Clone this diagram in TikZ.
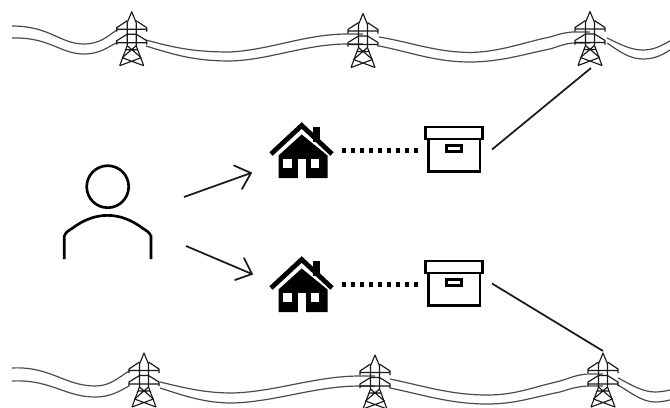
\documentclass[tikz,border=0pt]{standalone}
\tikzset{
  x=0.75pt,y=-0.75pt,
  wire/.style={draw=black!70,line width=0.9pt},
  tw/.style={draw=black!90,line width=0.85pt,line join=round},
  thick line/.style={draw=black,line width=2pt},
  conn/.style={draw=black!90,line width=1.3pt},
  dots/.style={draw=black,line width=3.2pt,dash pattern=on 3pt off 3.75pt},
  head/.style={draw=black!90,line width=1.3pt,line cap=round,line join=miter},
  towerpic/.pic={
    \path[tw] (-4.5,11) -- (0,0) -- (4.5,11) (-4.5,11) -- (-4.5,34) (4.5,11) -- (4.5,34)
      (-4.5,34) -- (-12,54) (4.5,34) -- (12,54);
    \path[tw] (-15,20) -- (-15,16) -- (-4.5,9) (15,20) -- (15,16) -- (4.5,9) (-15,17.5) -- (15,17.5);
    \path[tw] (-15,33) -- (-15,29) -- (-4.5,22.5) (15,33) -- (15,29) -- (4.5,22.5) (-15,31) -- (15,31) (-4.5,22.5) -- (4.5,22.5);
    \path[tw] (-4.5,34) -- (9.5,46) (4.5,34) -- (-9.5,46) (-9.5,46) -- (12,54) (9.5,46) -- (-12,54) (-6,38) -- (6,38);
  },
}
\begin{document}
\begin{tikzpicture}
\useasboundingbox (0,0) rectangle (670,407);
\fill[white] (0,0) rectangle (670,407);

% wires
\path[wire] (12,26) .. controls (50,26) and (60,44) .. (84,44) .. controls (100,44) and (108,36) .. (118,29);
\path[wire] (12,38) .. controls (50,37) and (60,54) .. (84,54) .. controls (100,54) and (108,47) .. (118,42);
\path[wire] (146,40) .. controls (175,48) and (195,52) .. (230,52) .. controls (270,50) and (305,34) .. (348,34) -- (363,34);
\path[wire] (146,46) .. controls (175,55) and (195,61) .. (230,61) .. controls (270,60) and (305,44) .. (348,44) -- (363,44);
\path[wire] (379,37) .. controls (410,42) and (435,52) .. (470,52.5) .. controls (500,52) and (525,42) .. (550,37) .. controls (560,34) and (566,32) .. (575,32) -- (590,32);
\path[wire] (379,46) .. controls (410,52) and (435,62) .. (470,62) .. controls (500,62) and (525,54) .. (550,49) .. controls (560,46) and (566,43) .. (575,43) -- (590,43);
\path[wire] (607,38) .. controls (620,44) and (630,50) .. (643,50) .. controls (655,50) and (662,45) .. (670,41);
\path[wire] (607,43) .. controls (620,52) and (630,59) .. (643,59) .. controls (655,59) and (662,55) .. (670,50);

\path[wire] (12,368) .. controls (50,366) and (65,386) .. (95,386) .. controls (110,386) and (118,378) .. (129,371);
\path[wire] (12,381) .. controls (50,379) and (65,397) .. (95,397) .. controls (110,397) and (118,392) .. (129,386);
\path[wire] (160,382) .. controls (185,388) and (205,393) .. (232,393) .. controls (275,392) and (315,376) .. (360,376) -- (375,376);
\path[wire] (160,388) .. controls (185,396) and (205,403) .. (232,403) .. controls (275,402) and (315,386) .. (360,386) -- (375,386);
\path[wire] (390,379) .. controls (420,385) and (450,395) .. (487,395) .. controls (515,395) and (530,388) .. (560,381) .. controls (570,378) and (578,374) .. (590,374) -- (603,374);
\path[wire] (390,388) .. controls (420,394) and (450,404) .. (487,404) .. controls (515,404) and (530,398) .. (560,392) .. controls (570,389) and (578,386) .. (590,386) -- (603,386);
\path[wire] (618,378) .. controls (630,384) and (642,392) .. (655,392) .. controls (660,392) and (666,391) .. (670,390);
\path[wire] (618,385) .. controls (630,392) and (642,402) .. (655,402) .. controls (660,402) and (666,401) .. (670,400);

% towers
\pic at (131.7,11.7) {towerpic};
\pic at (363,13.5) {towerpic};
\pic at (590,11.5) {towerpic};
\pic at (144,353) {towerpic};
\pic at (375,355) {towerpic};
\pic at (603,353) {towerpic};

% person
\node[circle,draw=black,line width=2pt,minimum size=31.5pt,inner sep=0pt] (head) at (107.7,186.7) {};
\path[thick line,line join=round] (64.3,259) -- (64.3,236) .. controls (66,232) and (68,231) .. (72,228.5) .. controls (95,211) and (120,211) .. (143,228.5) .. controls (147,231) and (149,232) .. (151,236) -- (151,259);
\coordinate (p1) at (184,197);
\coordinate (p2) at (186,246);

% houses
\foreach \n/\dy in {a/0,b/134}{
  \begin{scope}[yshift=-\dy*0.75pt]
    \fill[black] (313,127) rectangle (319.5,142);
    \fill[black] (301.7,134.5) -- (278.5,155.5) -- (278.5,178) -- (327.5,178) -- (327.5,155.5) -- cycle;
    \path[draw=black,line width=3.6pt,line cap=butt,line join=miter] (271,154) -- (301.7,125.5) -- (332,154);
    \fill[white] (283.3,159) rectangle (292.3,168);
    \fill[white] (310.7,159) rectangle (319.3,168);
    \fill[white] (297.7,159) rectangle (306,178.5);
    \coordinate (house\n) at (342,150.5);
    \coordinate (boxl\n) at (419,150.5);
    \coordinate (boxr\n) at (492,149.5);
    \path[draw=black,line width=2pt] (425.7,127) rectangle (482.7,139);
    \path[draw=black,line width=2pt] (428.5,139) -- (428.5,171.7) -- (480,171.7) -- (480,139);
    \path[draw=black,line width=1.6pt] (446.5,145.5) rectangle (461.5,151.5);
  \end{scope}
  \path[dots] (house\n) -- (boxl\n);
}
\coordinate (t3) at (591,68);
\coordinate (t4) at (603,351);
\coordinate (ah1) at (251,173);
\coordinate (ah2) at (252,274);
\path[conn] (boxra) -- (t3);
\path[conn] (boxrb) -- (t4);
\path[conn] (p1) -- (ah1);
\path[conn] (p2) -- (ah2);
\path[head] (234,165.5) -- (ah1) -- (242,189);
\path[head] (244,258) -- (ah2) -- (235,280);
\end{tikzpicture}
\end{document}
